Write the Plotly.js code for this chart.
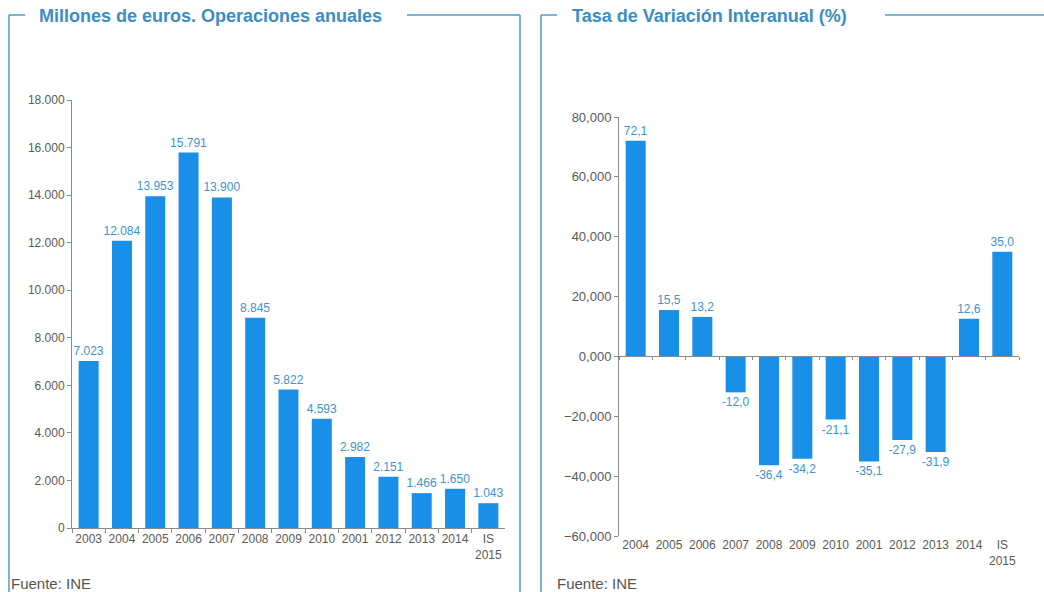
<!DOCTYPE html>
<html>
<head>
<meta charset="utf-8">
<script src="https://cdn.plot.ly/plotly-3.0.1.min.js"></script>
<style>html,body{margin:0;padding:0;background:#fff;}#chart{width:1044px;height:592px;}</style>
</head>
<body>
<div id="chart"></div>
<script>
// ---- data ----
var yearsLeft = ["2003","2004","2005","2006","2007","2008","2009","2010","2001","2012","2013","2014","IS<br>2015"];
var millonesEuros = [7023, 12084, 13953, 15791, 13900, 8845, 5822, 4593, 2982, 2151, 1466, 1650, 1043];
var yearsRight = ["2004","2005","2006","2007","2008","2009","2010","2001","2012","2013","2014","IS<br>2015"];
var tasaVariacion = [72.1, 15.5, 13.2, -12.0, -36.4, -34.2, -21.1, -35.1, -27.9, -31.9, 12.6, 35.0];
var titleLeft = "Millones de euros. Operaciones anuales";
var titleRight = "Tasa de Variación Interanual (%)";
var source = "Fuente: INE";

// ---- layout helpers (pixels -> paper) ----
var W = 1044, H = 592;
function px(x){ return x / W; }
function py(y){ return 1 - y / H; }

var barColor = "#1a8fe8";
var labelColor = "#3b95cf";
var tickColor = "#5a5a5a";
var axisColor = "#8a8a8a";
var frameColor = "#4f9cc6";
var font = "Liberation Sans, Arial, sans-serif";

var leftY = [0, 18000];
var rightY = [-60, 80];
var rightYDomain = [py(536), py(117)];
var zeroPos = rightYDomain[0] + (0 - rightY[0]) / (rightY[1] - rightY[0]) * (rightYDomain[1] - rightYDomain[0]);

var traces = [
  {
    type: "bar", x: yearsLeft, y: millonesEuros, xaxis: "x", yaxis: "y",
    marker: {color: barColor},
    texttemplate: "%{y:,.0f}", textposition: "outside", constraintext: "none",
    textfont: {family: font, size: 12, color: labelColor},
    cliponaxis: false, hoverinfo: "x+y"
  },
  {
    type: "bar", x: yearsRight, y: tasaVariacion, xaxis: "x2", yaxis: "y2",
    marker: {color: barColor},
    texttemplate: "%{y:.1f}", textposition: "outside", constraintext: "none",
    textfont: {family: font, size: 12, color: labelColor},
    cliponaxis: false, hoverinfo: "x+y"
  },
  {
    type: "scatter", mode: "none", x: yearsRight, y: tasaVariacion.map(function(){return 0;}),
    xaxis: "x3", yaxis: "y2", hoverinfo: "skip", showlegend: false
  }
];

var tickFontL = {family: font, size: 12, color: tickColor};
var tickFontR = {family: font, size: 13, color: tickColor};

var layout = {
  width: W, height: H,
  margin: {l: 0, r: 0, t: 0, b: 0},
  paper_bgcolor: "#ffffff", plot_bgcolor: "rgba(0,0,0,0)",
  showlegend: false,
  separators: ",.",
  bargap: 0.4,
  font: {family: font},
  xaxis: {
    domain: [px(72), px(505)], anchor: "y", type: "category",
    range: [-0.5, yearsLeft.length - 0.5], tickangle: 0,
    showline: true, linecolor: axisColor, linewidth: 1,
    ticks: "outside", ticklen: 4, tickcolor: axisColor, tickson: "boundaries",
    tickfont: tickFontL, showgrid: false, fixedrange: true
  },
  yaxis: {
    domain: [py(528), py(100)], anchor: "x",
    range: leftY, dtick: 2000, tickformat: ",.0f",
    showline: true, linecolor: axisColor, linewidth: 1,
    ticks: "outside", ticklen: 4, tickcolor: axisColor,
    tickfont: tickFontL, showgrid: false, zeroline: false, fixedrange: true
  },
  xaxis2: {
    domain: [px(619), px(1019)], anchor: "y2", type: "category",
    range: [-0.5, yearsRight.length - 0.5], tickangle: 0,
    showline: false, ticks: "", tickfont: tickFontL, showgrid: false, fixedrange: true
  },
  xaxis3: {
    domain: [px(619), px(1019)], overlaying: "x2", anchor: "free", position: zeroPos,
    type: "category", categoryarray: yearsRight, categoryorder: "array",
    range: [-0.5, yearsRight.length - 0.5],
    showline: true, linecolor: axisColor, linewidth: 1,
    ticks: "outside", ticklen: 3, tickcolor: axisColor, tickson: "boundaries",
    showticklabels: false, showgrid: false, fixedrange: true
  },
  yaxis2: {
    domain: rightYDomain, anchor: "x2",
    range: rightY, dtick: 20, tickformat: ".3f",
    showline: true, linecolor: axisColor, linewidth: 1,
    ticks: "outside", ticklen: 4, tickcolor: axisColor,
    tickfont: tickFontR, showgrid: false, zeroline: false, fixedrange: true
  },
  annotations: [
    {text: "<b>" + titleLeft + "</b>", xref: "paper", yref: "paper", x: px(37), y: py(16),
     xanchor: "left", yanchor: "middle", showarrow: false,
     font: {family: font, size: 18, color: "#3a8ec4"}},
    {text: "<b>" + titleRight + "</b>", xref: "paper", yref: "paper", x: px(570), y: py(16),
     xanchor: "left", yanchor: "middle", showarrow: false,
     font: {family: font, size: 18, color: "#3a8ec4"}},
    {text: source, xref: "paper", yref: "paper", x: px(9), y: py(583),
     xanchor: "left", yanchor: "middle", showarrow: false,
     font: {family: font, size: 15, color: "#555555"}},
    {text: source, xref: "paper", yref: "paper", x: px(555), y: py(583),
     xanchor: "left", yanchor: "middle", showarrow: false,
     font: {family: font, size: 15, color: "#555555"}}
  ],
  shapes: [
    // left panel frame
    {type: "line", xref: "paper", yref: "paper", x0: px(9), x1: px(25), y0: py(15), y1: py(15), line: {color: frameColor, width: 1.5}},
    {type: "line", xref: "paper", yref: "paper", x0: px(9), x1: px(9), y0: py(15), y1: py(592), line: {color: frameColor, width: 1.5}},
    {type: "line", xref: "paper", yref: "paper", x0: px(407), x1: px(520), y0: py(15), y1: py(15), line: {color: frameColor, width: 1.5}},
    {type: "line", xref: "paper", yref: "paper", x0: px(520), x1: px(520), y0: py(15), y1: py(592), line: {color: frameColor, width: 1.5}},
    // right panel frame
    {type: "line", xref: "paper", yref: "paper", x0: px(541), x1: px(557), y0: py(15), y1: py(15), line: {color: frameColor, width: 1.5}},
    {type: "line", xref: "paper", yref: "paper", x0: px(541), x1: px(541), y0: py(15), y1: py(592), line: {color: frameColor, width: 1.5}},
    {type: "line", xref: "paper", yref: "paper", x0: px(885), x1: px(1044), y0: py(15), y1: py(15), line: {color: frameColor, width: 1.5}}
  ]
};

Plotly.newPlot("chart", traces, layout, {displayModeBar: false, staticPlot: true});
</script>
</body>
</html>
